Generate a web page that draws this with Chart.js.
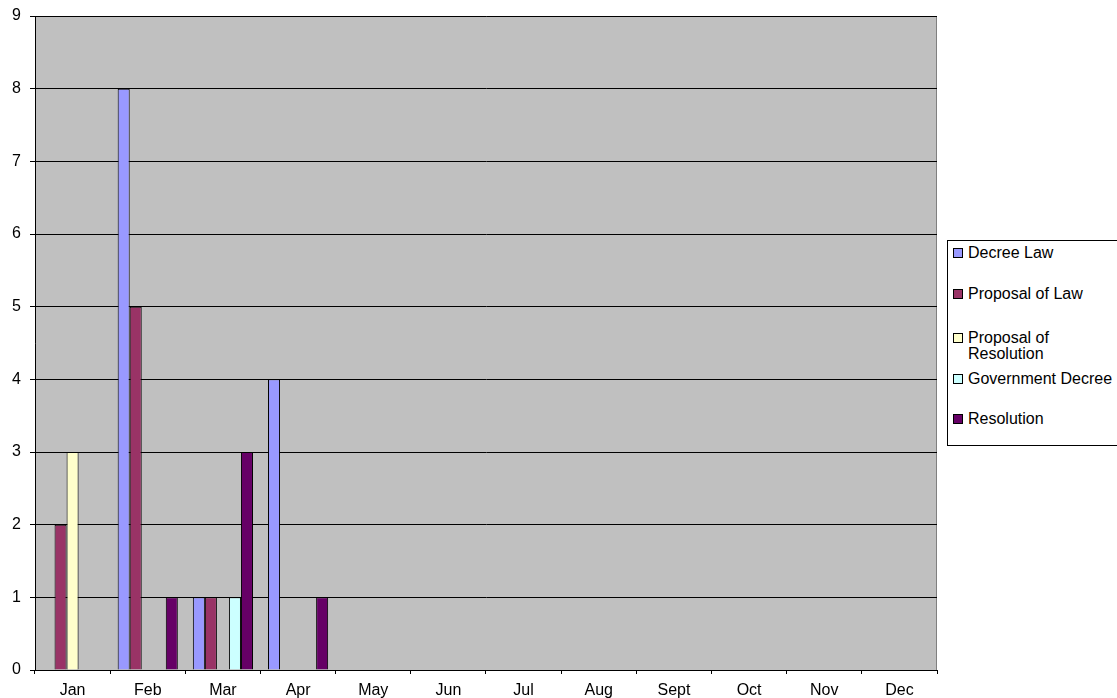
<!DOCTYPE html>
<html>
<head>
<meta charset="utf-8">
<script src="https://cdn.jsdelivr.net/npm/chart.js@4/dist/chart.umd.min.js"></script>
<style>
  html, body { margin:0; padding:0; background:#fff; overflow:hidden; }
  #wrap { position:relative; width:1117px; height:698px; }
  #legend { position:absolute; left:947px; top:240px; width:200px; height:206px;
            border:1px solid #000; background:#fff; box-sizing:border-box;
            font-family: Arial, "Liberation Sans", sans-serif; font-size:16px; color:#000; }
  .item { position:absolute; left:5px; line-height:16px; white-space:nowrap; }
  .box { position:absolute; left:0; top:3px; width:8px; height:8px; border:1px solid #000; }
  .txt { position:absolute; left:15px; top:0; }
</style>
</head>
<body>
<div id="wrap">
  <canvas id="myChart" width="1117" height="698"></canvas>
  <div id="legend"></div>
</div>
<script>
// categories
const months = ["Jan","Feb","Mar","Apr","May","Jun","Jul","Aug","Sept","Oct","Nov","Dec"];

// series values
const decreeLaw            = [0,8,1,4,0,0,0,0,0,0,0,0];
const proposalOfLaw        = [2,5,1,0,0,0,0,0,0,0,0,0];
const proposalOfResolution = [3,0,0,0,0,0,0,0,0,0,0,0];
const governmentDecree     = [0,0,1,0,0,0,0,0,0,0,0,0];
const resolution           = [0,1,3,1,0,0,0,0,0,0,0,0];

// y ticks
const yMin = 0, yMax = 9, yStep = 1;

const seriesNames  = ["Decree Law","Proposal of Law","Proposal of Resolution","Government Decree","Resolution"];
const seriesColors = ["#9999FF","#993366","#FFFFCC","#CCFFFF","#660066"];
const seriesData   = [decreeLaw, proposalOfLaw, proposalOfResolution, governmentDecree, resolution];

const font = { family: "Arial, 'Liberation Sans', sans-serif", size: 16 };

// grey plot area like the old excel chart
const plotBg = {
    id: "plotBg",
    beforeDraw(chart) {
        const a = chart.chartArea, ctx = chart.ctx;
        ctx.save();
        ctx.fillStyle = "#C0C0C0";
        ctx.fillRect(a.left, a.top, a.right - a.left, a.bottom - a.top);
        ctx.strokeStyle = "#808080";
        ctx.lineWidth = 1;
        ctx.strokeRect(a.left + 0.5, a.top + 0.5, a.right - a.left - 1, a.bottom - a.top);
        ctx.restore();
    }
};

let datasets = [];
for (let i = 0; i < seriesNames.length; i++) {
    datasets.push({
        label: seriesNames[i],
        data: seriesData[i],
        backgroundColor: seriesColors[i],
        borderColor: "#000",
        borderWidth: 1,
        categoryPercentage: 0.8,
        barPercentage: 1.0
    });
}

let ctx = document.getElementById("myChart").getContext("2d");
let chart = new Chart(ctx, {
    type: "bar",
    data: { labels: months, datasets: datasets },
    options: {
        responsive: false,
        animation: false,
        layout: { padding: { left: 0, top: 16, right: 180, bottom: 0 } },
        plugins: { legend: { display: false }, tooltip: { enabled: false } },
        scales: {
            x: {
                grid: { drawOnChartArea: false, drawTicks: true, tickLength: 4, tickColor: "#000" },
                border: { color: "#000" },
                ticks: { color: "#000", font: font, padding: 7, maxRotation: 0 },
                afterFit(scale) { scale.height = 28; }
            },
            y: {
                min: yMin, max: yMax,
                grid: { color: "#000", tickLength: 5, tickColor: "#000" },
                border: { color: "#000" },
                ticks: { stepSize: yStep, color: "#000", font: font, padding: 9 },
                afterFit(scale) {
                    scale.width = 35;
                    scale.paddingTop = 0;
                    scale.paddingBottom = 0;
                }
            }
        }
    },
    plugins: [plotBg]
});

// html legend, built from the datasets
const legendTops = [4, 45, 89, 130, 170];
let legend = document.getElementById("legend");
datasets.forEach(function(ds, i) {
    let label = ds.label;
    if (label.length > 20) {
        let k = label.lastIndexOf(" ");
        label = label.slice(0, k) + "<br>" + label.slice(k + 1);
    }
    let item = document.createElement("div");
    item.className = "item";
    item.style.top = legendTops[i] + "px";
    item.innerHTML = '<span class="box" style="background:' + ds.backgroundColor + '"></span>' +
                     '<span class="txt">' + label + '</span>';
    legend.appendChild(item);
});
</script>
</body>
</html>
